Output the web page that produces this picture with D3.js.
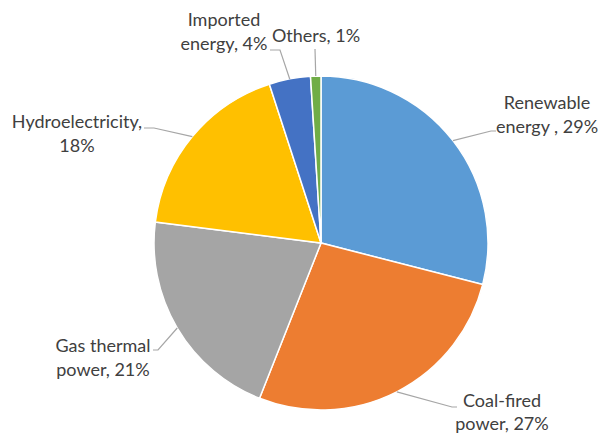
<!DOCTYPE html>
<html>
<head>
<meta charset="utf-8">
<script src="https://cdn.jsdelivr.net/npm/d3@7"></script>
<style>
html,body{margin:0;padding:0;background:#fff;}
svg{display:block;}
</style>
</head>
<body>
<svg id="chart" width="598" height="435"></svg>
<script>
const categories = ["Renewable energy", "Coal-fired power", "Gas thermal power", "Hydroelectricity", "Imported energy", "Others"];
const values = [29, 27, 21, 18, 4, 1];
const colors = ["#5B9BD5", "#ED7D31", "#A5A5A5", "#FFC000", "#4472C4", "#70AD47"];
const labelLines = [
  ["Renewable", "energy , 29%"],
  ["Coal-fired", "power, 27%"],
  ["Gas thermal", "power, 21%"],
  ["Hydroelectricity,", "18%"],
  ["Imported", "energy, 4%"],
  ["Others, 1%"]
];
// label layout: center x, first baseline y, line gap, leader anchor (x,y) and elbow x
const labelPos = [
  {x: 547, y: 109, gap: 24, ax: 496, ay: 131, ex: 491},
  {x: 502, y: 407, gap: 23, ax: 457, ay: 407, ex: 452},
  {x: 103, y: 352, gap: 24, ax: 153, ay: 350, ex: 158},
  {x: 77,  y: 128, gap: 24, ax: 144, ay: 128, ex: 154},
  {x: 224, y: 26,  gap: 24, ax: 270, ay: 50,  ex: 280},
  {x: 316, y: 42,  gap: 24, ax: 315, ay: 49,  ex: 315}
];

const svg = d3.select("#chart");
const cx = 321, cy = 243, R = 167;
const g = svg.append("g").attr("transform", `translate(${cx},${cy})`);

const data = categories.map((c, i) => ({name: c, value: values[i], i}));
const pie = d3.pie().value(d => d.value).sort(null);
const arc = d3.arc().innerRadius(0).outerRadius(R);
const arcs = pie(data);

g.selectAll("path.slice").data(arcs).join("path")
  .attr("class", "slice")
  .attr("d", arc)
  .attr("fill", d => colors[d.data.i])
  .attr("stroke", "#fff")
  .attr("stroke-width", 1.5);

// leader lines
arcs.forEach(d => {
  const lp = labelPos[d.data.i];
  const mid = (d.startAngle + d.endAngle) / 2;
  const px = cx + R * Math.sin(mid), py = cy - R * Math.cos(mid);
  svg.append("polyline")
    .attr("points", `${lp.ax},${lp.ay} ${lp.ex},${lp.ay} ${px},${py}`)
    .attr("fill", "none")
    .attr("stroke", "#A6A6A6")
    .attr("stroke-width", 1.2);
});

// labels
arcs.forEach(d => {
  const lp = labelPos[d.data.i];
  const t = svg.append("text")
    .attr("x", lp.x).attr("y", lp.y)
    .attr("text-anchor", "middle")
    .attr("font-family", "Lato, 'Open Sans', sans-serif")
    .attr("font-size", 18)
    .attr("fill", "#404040");
  labelLines[d.data.i].forEach((ln, k) => {
    t.append("tspan").attr("x", lp.x).attr("dy", k === 0 ? 0 : lp.gap).text(ln);
  });
});
</script>
</body>
</html>
